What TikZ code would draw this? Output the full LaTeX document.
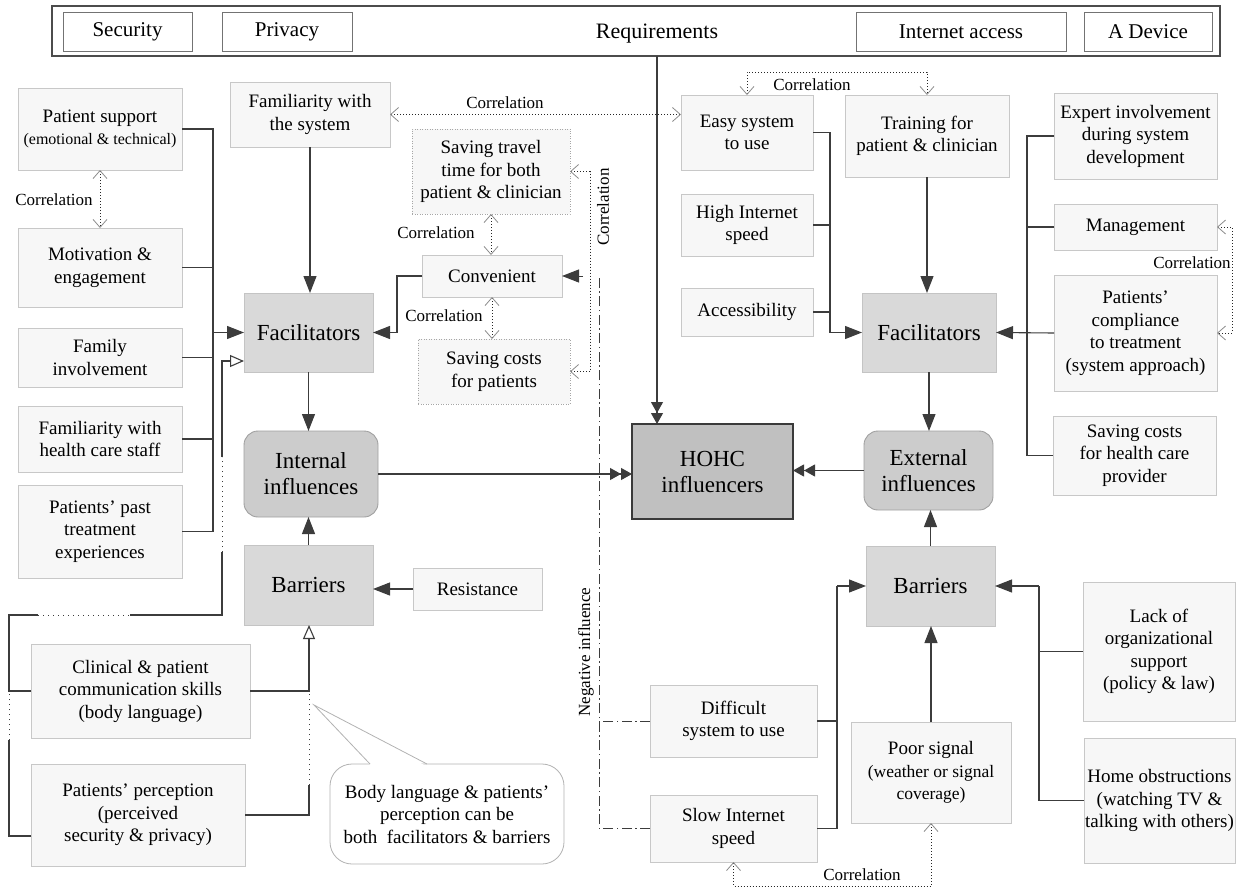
\documentclass[tikz,border=0pt]{standalone}
\usepackage{fontspec}
\setmainfont{Liberation Serif}
\usetikzlibrary{arrows.meta}
\definecolor{boxfill}{HTML}{F7F7F7}
\definecolor{boxline}{HTML}{C8C8C8}
\definecolor{hfill}{HTML}{D9D9D9}
\definecolor{hline}{HTML}{C4C4C4}
\definecolor{rfill}{HTML}{CCCCCC}
\definecolor{rline}{HTML}{A0A0A0}
\definecolor{hohcfill}{HTML}{C0C0C0}
\definecolor{hohcline}{HTML}{3A3A3A}
\definecolor{lncol}{HTML}{3C3C3C}
\newcommand\bx[7]{\node[#1, minimum width={#4pt-#2pt}, minimum height={#5pt-#3pt}] (#6) at ({(#2+#4)/2},{(#3+#5)/2}) {#7};}
\newcommand\sm{\fontsize{16}{19}\selectfont}
\newcommand\smm{\fontsize{17.5}{20}\selectfont}
\begin{document}
\begin{tikzpicture}[x=1pt,y=-1pt,
  base/.style={font=\fontsize{19}{22.5}\selectfont, align=center, inner sep=1pt, outer sep=0pt},
  lbox/.style={base, draw=boxline, fill=boxfill, line width=0.9pt},
  dbox/.style={base, draw=black!35, fill=boxfill, line width=0.7pt, dash pattern=on 1pt off 1.5pt},
  hbox/.style={base, draw=hline, fill=hfill, line width=0.9pt, font=\fontsize{23}{26}\selectfont},
  rbox/.style={hbox, fill=rfill, draw=rline, rounded corners=14pt},
  hohcbox/.style={hbox, fill=hohcfill, draw=hohcline, line width=1.2pt},
  tbox/.style={base, draw=black!55, fill=white, line width=0.9pt, font=\fontsize{21}{24}\selectfont},
  barbox/.style={draw=black!70, fill=white, line width=1.3pt, inner sep=0pt, outer sep=0pt},
  callout/.style={base, draw=black!30, fill=white, line width=0.8pt, rounded corners=22pt},
  ln/.style={draw=lncol, line width=1.1pt},
  arr/.style={ln, -{Triangle[length=17pt,width=13pt]}},
  oarr/.style={ln, -{Triangle[length=14pt,width=12pt,fill=white]}},
  darr/.style={ln, -{Triangle[length=11pt,width=12pt]Triangle[length=11pt,width=12pt]}},
  corr/.style={draw=black!85, line width=0.8pt, dash pattern=on 1pt off 2pt,
     {Straight Barb[length=8pt,width=14pt,color=black!45]}-{Straight Barb[length=8pt,width=14pt,color=black!45]}},
  dots/.style={draw=lncol, line width=0.9pt, dash pattern=on 1pt off 4pt},
  negl/.style={draw=lncol, line width=1pt, dash pattern=on 10pt off 3.5pt on 1.5pt off 3.5pt},
  clab/.style={font=\fontsize{17}{19}\selectfont, inner sep=1pt}
]
\useasboundingbox (0,0) rectangle (1239,888);

% ---------- top bar ----------
\bx{barbox}{52}{6}{1220}{56}{bar}{}
\bx{tbox}{63}{12}{192}{51}{sec}{Security}
\bx{tbox}{222}{12}{352}{51}{priv}{Privacy}
\bx{tbox}{856}{12}{1066}{51}{inet}{Internet access}
\bx{tbox}{1084}{12}{1212}{51}{dev}{A Device}
\node[base, font=\fontsize{22}{24}\selectfont] (req) at (657,34) {Requirements};
\coordinate (reqb) at (657,56);

% ---------- left column ----------
\bx{lbox}{18}{88}{182}{170}{ps}{Patient support\\\sm(emotional \& technical)}
\bx{lbox}{18}{228}{182}{307}{mot}{Motivation \&\\engagement}
\bx{lbox}{18}{328}{182}{387}{fam}{Family\\involvement}
\bx{lbox}{18}{406}{182}{472}{fhc}{Familiarity with\\health care staff}
\bx{lbox}{18}{485}{182}{578}{past}{Patients' past\\treatment\\experiences}
\bx{lbox}{31}{644}{250}{738}{clin}{Clinical \& patient\\communication skills\\(body language)}
\bx{lbox}{31}{764}{245}{866}{perc}{Patients' perception\\(perceived\\security \& privacy)}

\bx{lbox}{230}{82}{390}{147}{fs}{Familiarity with\\the system}
\bx{hbox}{244}{293}{373}{372}{facL}{Facilitators}
\bx{rbox}{244}{431}{378}{517}{intl}{Internal\\influences}
\bx{hbox}{244}{545}{373}{625}{barL}{Barriers}
\bx{lbox}{413}{568}{542}{610}{res}{Resistance}
\bx{dbox}{412}{129}{570}{214}{st}{Saving travel\\time for both\\patient \& clinician}
\bx{lbox}{422}{255}{562}{297}{conv}{Convenient}
\bx{dbox}{418}{339}{570}{404}{sc}{Saving costs\\for patients}

% callout
\bx{callout}{330}{764}{564}{864}{cb}{Body language \& patients'\\perception can be\\both\ \ facilitators \& barriers}
\coordinate (cbtip) at (314,705);
\fill[white] (371,766) -- (cbtip) -- (426,766) -- cycle;
\draw[draw=black!30, line width=0.8pt] (370,764) -- (cbtip) -- (427,764);

% ---------- centre ----------
\bx{hohcbox}{632}{424}{793}{519}{hohc}{HOHC\\influencers}

% ---------- right ----------
\bx{lbox}{681}{95}{813}{170}{easy}{Easy system\\to use}
\bx{lbox}{845}{95}{1009}{177}{train}{Training for\\patient \& clinician}
\bx{lbox}{681}{194}{813}{256}{high}{High Internet\\speed}
\bx{lbox}{681}{288}{813}{336}{acc}{Accessibility}
\bx{hbox}{862}{293}{996}{372}{facR}{Facilitators}
\bx{lbox}{1054}{93}{1217}{179}{exp}{Expert involvement\\during system\\development}
\bx{lbox}{1054}{204}{1217}{250}{mgmt}{Management}
\bx{lbox}{1054}{275}{1217}{391}{comp}{Patients'\\compliance\\to treatment\\(system approach)}
\bx{lbox}{1053}{416}{1216}{495}{shc}{Saving costs\\for health care\\provider}
\bx{rbox}{864}{431}{993}{510}{extl}{External\\influences}
\bx{hbox}{866}{546}{995}{626}{barR}{Barriers}
\bx{lbox}{650}{685}{817}{757}{diff}{Difficult\\system to use}
\bx{lbox}{650}{795}{817}{862}{slow}{Slow Internet\\speed}
\bx{lbox}{851}{722}{1011}{823}{poor}{Poor signal\\\smm(weather or signal\\\smm coverage)}
\bx{lbox}{1083}{582}{1235}{721}{lack}{Lack of\\organizational\\support\\(policy \& law)}
\bx{lbox}{1084}{738}{1235}{863}{home}{Home obstructions\\(watching TV \&\\talking with others)}

% ---------- connectors: left ----------
\coordinate (bL) at (213,0);
\draw[ln] (ps.east) -- (ps.east -| bL) -- (past.east -| bL) -- (past.east);
\draw[ln] (mot.east) -- (mot.east -| bL);
\draw[ln] (fam.east) -- (fam.east -| bL);
\draw[ln] (fhc.east) -- (fhc.east -| bL);
\draw[arr] (facL.west -| bL) -- (facL.west);
\draw[corr] (ps.south) -- (mot.north);
\node[clab] (c1) at (54,200) {Correlation};
\draw[arr] (fs.south) -- (fs.south |- facL.north);
\draw[arr] (facL.south) -- (facL.south |- intl.north);
\draw[arr] (barL.north) -- (barL.north |- intl.south);
\draw[arr] (res.west) -- (res.west -| barL.east);
\draw[darr] (intl.east) -- (intl.east -| hohc.west);
\draw[darr] (reqb) -- (reqb |- hohc.north);

% left outer loop (open triangle into facilitators)
\coordinate (lx) at (9,0);
\coordinate (tx) at (222,0);
\coordinate (ly) at (0,615);
\draw[ln] (clin.west) -- (clin.west -| lx) -- (lx |- ly) -- (38,615);
\draw[dots] (38,615) -- (130,615);
\draw[ln] (130,615) -- (tx |- ly) -- (222,552);
\draw[dots] (222,552) -- (222,457);
\draw[oarr] (222,457) -- (222,361) -- (facL.west |- 0,361);
\coordinate (pl) at (31,836);
\draw[ln] (pl) -- (pl -| lx) -- (9,740);
\draw[dots] (9,740) -- (9,693);
% open triangle into left barriers
\coordinate (bx2) at (309,0);
\draw[oarr] (clin.east) -- (clin.east -| bx2) -- (bx2 |- barL.south);
\draw[ln] (perc.east) -- (perc.east -| bx2) -- (309,785);
\draw[dots] (309,785) -- (309,693);

% convenient cluster
\draw[corr] (fs.east) -- (fs.east -| easy.west);
\node[clab] (c2) at (505,103) {Correlation};
\draw[corr] (st.south) -- (st.south |- conv.north);
\node[clab] (c3) at (436,233) {Correlation};
\draw[corr] (conv.south) -- (conv.south |- sc.north);
\node[clab] (c4) at (444,316) {Correlation};
\draw[corr] (st.east) -- ++(20,0) |- (sc.east);
\node[clab, rotate=90] (c5) at (603,207) {Correlation};
\draw[arr] (conv.west) -- ++(-25,0) |- (facL.east);

% negative influence
\coordinate (nx) at (599,0);
\draw[negl] (slow.west) -- (slow.west -| nx) -- (nx |- conv.east);
\draw[negl] (diff.west) -- (diff.west -| nx);
\draw[draw=lncol, line width=1pt, -{Triangle[length=17pt,width=13pt]}] (583,0 |- conv.east) -- (conv.east);
\node[clab, rotate=90] (neg) at (586,652) {Negative influence};

% ---------- connectors: right ----------
\coordinate (bR) at (830,0);
\draw[ln] (easy.east) -- (easy.east -| bR) -- (bR |- facR.west);
\draw[ln] (high.east) -- (high.east -| bR);
\draw[ln] (acc.east) -- (acc.east -| bR);
\draw[arr] (bR |- facR.west) -- (facR.west);
\draw[corr] (easy.north) -- ++(0,-23) -| (train.north);
\node[clab] (c6) at (812,85) {Correlation};
\draw[arr] (train.south) -- (train.south |- facR.north);
\draw[arr] (facR.south) -- (facR.south |- extl.north);

\coordinate (bRR) at (1027,0);
\draw[ln] (exp.west) -- (exp.west -| bRR) -- (bRR |- shc.west) -- (shc.west);
\draw[ln] (mgmt.west) -- (mgmt.west -| bRR);
\draw[arr] (comp.west) -- (facR.east);
\draw[corr] (mgmt.east) -- ++(15,0) |- (comp.east);
\node[clab] (c7) at (1192,263) {Correlation};

\draw[darr] (extl.west) -- (extl.west -| hohc.east);
\draw[arr] (barR.north) -- (barR.north |- extl.south);

\coordinate (bD) at (837,0);
\draw[ln] (diff.east) -- (diff.east -| bD) -- (slow.east -| bD) -- (slow.east);
\draw[arr] (bD |- barR.west) -- (barR.west);
\draw[ln] (bD |- diff.east) -- (bD |- barR.west);
\draw[arr] (poor.north) -- (poor.north |- barR.south);
\coordinate (bH) at (1039,0);
\draw[ln] (lack.west) -- (lack.west -| bH);
\draw[ln] (home.west) -- (home.west -| bH) -- (bH |- barR.east);
\draw[arr] (bH |- barR.east) -- (barR.east);
\draw[corr] (slow.south) -- ++(0,24) -| (poor.south);
\node[clab] (c8) at (862,875) {Correlation};
\end{tikzpicture}
\end{document}
